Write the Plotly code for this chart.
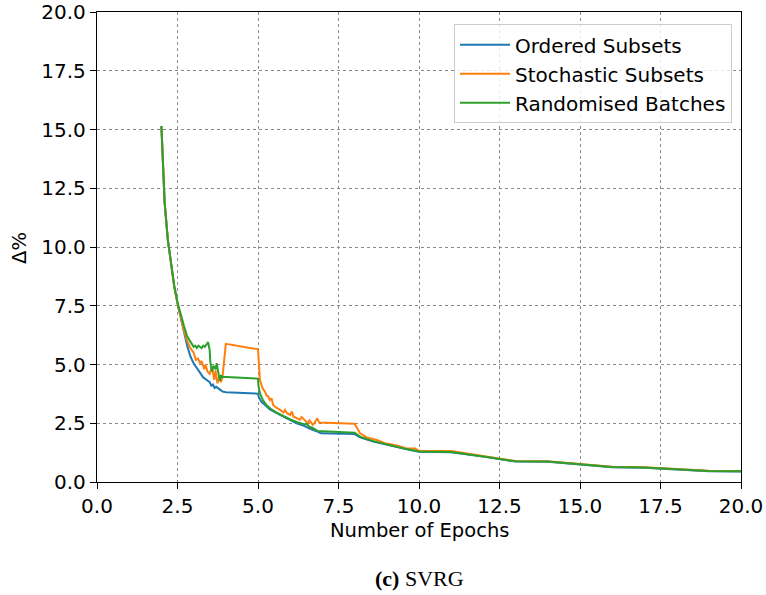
import plotly.graph_objects as go

# ---------------- data ----------------
ordered_x = [2.0, 2.05, 2.1, 2.2, 2.3, 2.4, 2.5, 2.6, 2.7, 2.8, 2.9, 3.0, 3.1, 3.2, 3.3, 3.4,
             3.5, 3.55, 3.6, 3.65, 3.7, 3.8, 3.9, 4.0, 5.0, 5.02, 5.1, 5.22, 5.37, 5.58, 5.79,
             6.0, 6.2, 6.45, 6.6, 6.84, 6.95, 8.0, 8.17, 8.58, 9.1, 9.62, 10.0, 11.0, 12.0,
             12.5, 13.0, 14.0, 15.0, 16.0, 17.0, 18.0, 19.0, 20.0]
ordered_y = [15.15, 13.2, 11.9, 10.3, 9.2, 8.3, 7.6, 7.0, 6.35, 5.8, 5.35, 5.05, 4.85, 4.65,
             4.45, 4.35, 4.25, 4.1, 4.15, 4.0, 4.05, 3.95, 3.85, 3.82, 3.76, 3.63, 3.42, 3.28,
             3.09, 2.93, 2.79, 2.65, 2.5, 2.38, 2.27, 2.15, 2.07, 2.04, 1.9, 1.72, 1.55, 1.39,
             1.29, 1.27, 1.08, 0.98, 0.87, 0.86, 0.74, 0.63, 0.61, 0.53, 0.46, 0.45]

stochastic_x = [2.0, 2.05, 2.1, 2.2, 2.3, 2.4, 2.5, 2.6, 2.7, 2.8, 2.9, 3.0, 3.07, 3.14, 3.2,
                3.25, 3.3, 3.33, 3.37, 3.43, 3.5, 3.57, 3.64, 3.68, 3.74, 3.8, 3.85, 3.9, 3.95,
                4.0, 5.0, 5.06, 5.11, 5.15, 5.22, 5.26, 5.32, 5.37, 5.42, 5.47, 5.58, 5.69,
                5.79, 5.84, 5.9, 6.0, 6.05, 6.1, 6.2, 6.3, 6.35, 6.45, 6.55, 6.6, 6.7, 6.76,
                6.84, 6.9, 8.0, 8.17, 8.38, 8.69, 8.94, 9.31, 9.62, 9.88, 10.0, 11.0, 12.0,
                12.5, 13.0, 14.0, 15.0, 16.0, 17.0, 18.0, 19.0, 20.0]
stochastic_y = [15.15, 13.2, 11.9, 10.3, 9.2, 8.3, 7.6, 7.0, 6.45, 6.0, 5.7, 5.5, 5.2, 5.25,
                5.05, 5.15, 4.95, 4.8, 5.0, 4.7, 4.6, 4.9, 4.35, 4.75, 4.2, 4.5, 4.25, 4.5,
                5.2, 5.88, 5.65, 4.34, 4.13, 3.97, 3.84, 3.7, 3.63, 3.49, 3.56, 3.28, 3.15,
                3.07, 2.96, 3.07, 2.93, 2.86, 3.0, 2.79, 2.72, 2.65, 2.76, 2.62, 2.5, 2.62,
                2.43, 2.53, 2.71, 2.53, 2.48, 2.07, 1.9, 1.79, 1.65, 1.55, 1.43, 1.43, 1.33,
                1.32, 1.1, 1.0, 0.89, 0.88, 0.76, 0.65, 0.63, 0.55, 0.48, 0.47]

randomised_x = [2.0, 2.05, 2.1, 2.2, 2.3, 2.4, 2.5, 2.6, 2.7, 2.8, 2.9, 3.0, 3.05, 3.1, 3.15,
                3.2, 3.25, 3.3, 3.35, 3.4, 3.45, 3.5, 3.52, 3.57, 3.62, 3.68, 3.72, 3.76,
                3.82, 3.85, 3.88, 5.0, 5.01, 5.06, 5.15, 5.26, 5.42, 5.58, 5.8, 6.0, 6.2,
                6.45, 6.5, 6.6, 6.7, 6.76, 6.86, 8.0, 8.17, 8.58, 9.1, 9.62, 10.0, 11.0,
                12.0, 12.5, 13.0, 14.0, 15.0, 16.0, 17.0, 18.0, 19.0, 20.0]
randomised_y = [15.15, 13.2, 11.9, 10.3, 9.2, 8.35, 7.65, 7.1, 6.65, 6.2, 5.95, 5.75, 5.8,
                5.7, 5.8, 5.75, 5.7, 5.8, 5.75, 5.85, 5.95, 5.6, 5.1, 4.7, 4.95, 4.8, 5.05,
                4.7, 4.3, 4.55, 4.48, 4.4, 4.14, 3.78, 3.49, 3.28, 3.09, 2.95, 2.8, 2.66,
                2.56, 2.45, 2.48, 2.35, 2.3, 2.24, 2.17, 2.1, 1.93, 1.74, 1.56, 1.4, 1.3,
                1.28, 1.09, 0.99, 0.88, 0.87, 0.75, 0.64, 0.62, 0.54, 0.47, 0.46]

series = [
    ("Ordered Subsets", ordered_x, ordered_y, "#1f77b4"),
    ("Stochastic Subsets", stochastic_x, stochastic_y, "#ff7f0e"),
    ("Randomised Batches", randomised_x, randomised_y, "#2ca02c"),
]

tick_vals = [0.0, 2.5, 5.0, 7.5, 10.0, 12.5, 15.0, 17.5, 20.0]
tick_text = ["0.0", "2.5", "5.0", "7.5", "10.0", "12.5", "15.0", "17.5", "20.0"]

# ---------------- figure ----------------
fig = go.Figure()
for name, xs, ys, col in series:
    fig.add_trace(go.Scatter(x=xs, y=ys, mode="lines", name=name,
                             line=dict(color=col, width=2)))

font_main = "DejaVu Sans"
axis_common = dict(
    range=[0, 20], tickvals=tick_vals, ticktext=tick_text, automargin=False,
    showgrid=True, gridcolor="#8a8a8a", griddash="dot", gridwidth=1,
    showline=True, linecolor="black", linewidth=1.3, mirror=True,
    ticks="outside", ticklen=6, tickwidth=1.3, tickcolor="black",
    tickfont=dict(family=font_main, size=20, color="black"),
    zeroline=False,
)

fig.update_layout(
    width=766, height=595,
    margin=dict(l=97, r=25, t=12, b=113),
    paper_bgcolor="white", plot_bgcolor="white",
    xaxis=axis_common,
    yaxis=axis_common,
    showlegend=True,
    legend=dict(x=0.986, y=0.974, xanchor="right", yanchor="top",
                bgcolor="rgba(255,255,255,0.8)", bordercolor="#cccccc", borderwidth=1,
                itemwidth=50, tracegroupgap=0,
                font=dict(family=font_main, size=20, color="black")),
    annotations=[
        dict(text="Number of Epochs", x=0.5, y=-0.104, xref="paper", yref="paper",
             xanchor="center", yanchor="middle", showarrow=False,
             font=dict(family=font_main, size=19.5, color="black")),
        dict(text="Δ%", x=-0.1196, y=0.498, xref="paper", yref="paper",
             xanchor="center", yanchor="middle", showarrow=False, textangle=-90,
             font=dict(family=font_main, size=19.5, color="black")),
        dict(text="<b>(c)</b> SVRG", x=0.5, y=-0.206, xref="paper", yref="paper",
             xanchor="center", yanchor="middle", showarrow=False,
             font=dict(family="Liberation Serif", size=22, color="black")),
    ],
)

fig.write_html("out.html")
